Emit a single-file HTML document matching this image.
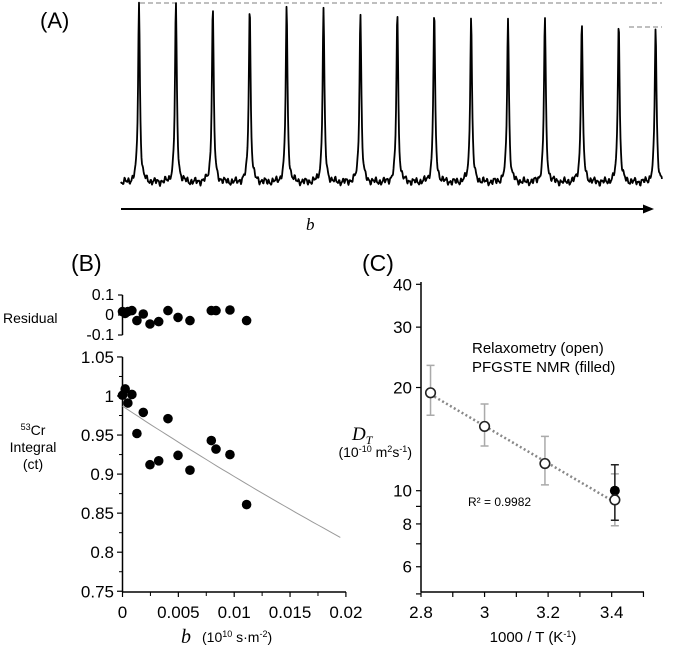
<!DOCTYPE html>
<html><head><meta charset="utf-8">
<style>
html,body{margin:0;padding:0;background:#fff;}
svg{display:block;font-family:"Liberation Sans",Arial,sans-serif;}
</style></head>
<body>
<svg id="s" width="675" height="648" viewBox="0 0 675 648">
<text x="40" y="28" font-size="22">(A)</text>
<text x="71" y="271" font-size="23">(B)</text>
<text x="362" y="271" font-size="23">(C)</text>
<line x1="140" y1="3" x2="662" y2="3" stroke="#aaa" stroke-width="1.5" stroke-dasharray="5,3"/>
<line x1="629" y1="27" x2="662" y2="27" stroke="#aaa" stroke-width="1.5" stroke-dasharray="5,3"/>
<line x1="121" y1="209" x2="645" y2="209" stroke="#000" stroke-width="2"/>
<polygon points="654,209 643,204.5 643,213.5" fill="#000"/>
<text x="306" y="230" font-size="17" font-style="italic" font-family="Liberation Serif,serif">b</text>
<g id="ga"></g><g id="gb"></g><g id="gc"></g>
<text x="3" y="323" font-size="14">Residual</text>
<text x="33" y="435" font-size="14" text-anchor="middle"><tspan font-size="9" dy="-5">53</tspan><tspan dy="5">Cr</tspan></text>
<text x="33" y="452" font-size="14" text-anchor="middle">Integral</text>
<text x="33" y="469" font-size="14" text-anchor="middle">(ct)</text>
<text x="181" y="643" font-size="20" font-style="italic" font-family="Liberation Serif,serif">b</text>
<text x="202" y="642" font-size="14">(10<tspan font-size="9" dy="-5">10</tspan><tspan dy="5"> s·m</tspan><tspan font-size="9" dy="-5">-2</tspan><tspan dy="5">)</tspan></text>
<text x="352" y="440" font-size="19" font-style="italic" font-family="Liberation Serif,serif">D<tspan font-size="12" dy="4">T</tspan></text>
<text x="412" y="457" font-size="14" text-anchor="end">(10<tspan font-size="9" dy="-5">-10</tspan><tspan dy="5"> m</tspan><tspan font-size="9" dy="-5">2</tspan><tspan dy="5">s</tspan><tspan font-size="9" dy="-5">-1</tspan><tspan dy="5">)</tspan></text>
<text x="533" y="642" font-size="15" text-anchor="middle">1000 / T (K<tspan font-size="9" dy="-5">-1</tspan><tspan dy="5">)</tspan></text>
<text x="472" y="353" font-size="15">Relaxometry (open)</text>
<text x="472" y="372" font-size="15">PFGSTE NMR (filled)</text>
<text x="468" y="506" font-size="12">R² = 0.9982</text>
</svg>
<script>
// Panel A data
const peakIndex=[0,1,2,3,4,5,6,7,8,9,10,11,12,13,14];
const peakHeights=[1.0,1.0,0.983,0.983,0.978,0.967,0.956,0.956,0.95,0.928,0.922,0.928,0.906,0.906,0.861];
// Panel B data
const bValues=[0,0.00024,0.00048,0.00084,0.00129,0.00186,0.00246,0.00324,0.00407,0.00497,0.00604,0.00795,0.00837,0.00962,0.01111];
const integrals=[1.001,1.009,0.991,1.002,0.952,0.979,0.912,0.917,0.971,0.924,0.905,0.943,0.932,0.925,0.861];
const residuals=[0.017,0.008,0.017,0.022,-0.028,0.005,-0.045,-0.033,0.022,-0.012,-0.028,0.022,0.022,0.025,-0.028];
const bTicks=[0,0.005,0.01,0.015,0.02];
const bTickLabels=["0","0.005","0.01","0.015","0.02"];
const intTicks=[0.75,0.8,0.85,0.9,0.95,1,1.05];
const intTickLabels=["0.75","0.8","0.85","0.9","0.95","1","1.05"];
const resTicks=[-0.1,0,0.1];
const resTickLabels=["-0.1","0","0.1"];
const fitA=0.987, fitD=9.57;
// Panel C data
const invT=[2.83,3.0,3.19,3.41];
const dOpen=[19.3,15.4,12.0,9.4];
const errHi=[23.2,17.9,14.4,11.2];
const errLo=[16.6,13.5,10.4,7.9];
const invTFilled=[3.41];
const dFilled=[10.0];
const fHi=[11.9];
const fLo=[8.2];
const cXTicks=[2.8,3.0,3.2,3.4];
const cXTickLabels=["2.8","3","3.2","3.4"];
const cYTicks=[6,8,10,20,30,40];
const cYTickLabels=["6","8","10","20","30","40"];
const cYMinor=[5,7,9];
const fitX=[2.83,3.41];
const fitY=[19.1,9.25];

const NS="http://www.w3.org/2000/svg";
function mk(par,tag,at){const e=document.createElementNS(NS,tag);for(const k in at)e.setAttribute(k,at[k]);par.appendChild(e);return e;}

// ---- Panel A
const ga=document.getElementById('ga');
const aX=i=>139+i*36.9, aBase=183;
let d="";
for(let x=121;x<=662;x+=0.5){
  let y=aBase+2.0*Math.sin(x*1.7)+1.5*Math.sin(x*0.63+1)+1.1*Math.sin(x*3.1+2);
  for(let i=0;i<peakIndex.length;i++){const dx=x-aX(peakIndex[i]);const w=1.1;y-=peakHeights[i]*179/(1+(dx*dx)/(w*w));}
  d+=(d?"L":"M")+x.toFixed(1)+","+y.toFixed(1);
}
const tr=mk(ga,'path',{d:d,fill:'none',stroke:'#000','stroke-width':1.8,'stroke-linejoin':'round'});



// ---- Panel B
const gb=document.getElementById('gb');
const bx=v=>122.5+v*11170, by=v=>396-(v-1)*781, ry=v=>315-v*200;
let el;
el=mk(gb,'line',{x1:122.5,y1:357,x2:122.5,y2:592,stroke:'#000','stroke-width':1.5});


el=mk(gb,'line',{x1:122.5,y1:592,x2:346,y2:592,stroke:'#000','stroke-width':1.5});


el=mk(gb,'line',{x1:122.5,y1:ry(0.1),x2:122.5,y2:ry(-0.1),stroke:'#000','stroke-width':1.5});


for(let i=0;i<intTicks.length;i++){
  mk(gb,'line',{x1:117,y1:by(intTicks[i]),x2:122.5,y2:by(intTicks[i]),stroke:'#000','stroke-width':1.2});
  if(i<intTicks.length-1)mk(gb,'line',{x1:119,y1:by(intTicks[i]+0.025),x2:122.5,y2:by(intTicks[i]+0.025),stroke:'#000','stroke-width':1});
  el=mk(gb,'text',{x:114,y:by(intTicks[i])+6,'font-size':17,'text-anchor':'end'});
  el.textContent=intTickLabels[i];
  
  
}
for(let i=0;i<resTicks.length;i++){
  mk(gb,'line',{x1:118,y1:ry(resTicks[i]),x2:122.5,y2:ry(resTicks[i]),stroke:'#000','stroke-width':1.2});
  el=mk(gb,'text',{x:114,y:ry(resTicks[i])+5,'font-size':16,'text-anchor':'end'});
  el.textContent=resTickLabels[i];
  
  
}
for(let i=0;i<bTicks.length;i++){
  mk(gb,'line',{x1:bx(bTicks[i]),y1:592,x2:bx(bTicks[i]),y2:597,stroke:'#000','stroke-width':1.2});
  if(i<bTicks.length-1)mk(gb,'line',{x1:bx(bTicks[i]+0.0025),y1:592,x2:bx(bTicks[i]+0.0025),y2:596,stroke:'#000','stroke-width':1});
  el=mk(gb,'text',{x:bx(bTicks[i]),y:618,'font-size':17,'text-anchor':'middle'});
  el.textContent=bTickLabels[i];
  
  
}
let fd="";
for(let v=0;v<=0.02;v+=0.0005){fd+=(fd?"L":"M")+bx(v).toFixed(1)+","+by(fitA*Math.exp(-fitD*v)).toFixed(1);}
el=mk(gb,'path',{d:fd,fill:'none',stroke:'#999','stroke-width':1});


for(let i=0;i<bValues.length;i++){
  el=mk(gb,'circle',{cx:bx(bValues[i]),cy:by(integrals[i]),r:4.8,fill:'#000'});
  
  
  el=mk(gb,'circle',{cx:bx(bValues[i]),cy:ry(residuals[i]),r:4.8,fill:'#000'});
  
  
}

// ---- Panel C
const gc=document.getElementById('gc');
const cx=v=>421+(v-2.8)*317.8, cy=v=>490.7-(Math.log10(v)-1)*342.8;
el=mk(gc,'line',{x1:421,y1:282,x2:421,y2:592,stroke:'#000','stroke-width':1.5});


el=mk(gc,'line',{x1:421,y1:592,x2:644,y2:592,stroke:'#000','stroke-width':1.5});


for(let i=0;i<cYTicks.length;i++){
  mk(gc,'line',{x1:416,y1:cy(cYTicks[i]),x2:421,y2:cy(cYTicks[i]),stroke:'#000','stroke-width':1.2});
  el=mk(gc,'text',{x:412,y:cy(cYTicks[i])+6,'font-size':17,'text-anchor':'end'});
  el.textContent=cYTickLabels[i];
  
  
}
for(const m of cYMinor){mk(gc,'line',{x1:416,y1:cy(m),x2:421,y2:cy(m),stroke:'#000','stroke-width':1.2});}
for(let i=0;i<cXTicks.length;i++){
  el=mk(gc,'text',{x:cx(cXTicks[i]),y:618,'font-size':17,'text-anchor':'middle'});
  el.textContent=cXTickLabels[i];
  
  
}
for(let v=2.8;v<=3.51;v+=0.1){mk(gc,'line',{x1:cx(v),y1:592,x2:cx(v),y2:597,stroke:'#000','stroke-width':1.2});}
el=mk(gc,'line',{x1:cx(fitX[0]),y1:cy(fitY[0]),x2:cx(fitX[1]),y2:cy(fitY[1]),stroke:'#888','stroke-width':2.5,'stroke-dasharray':'2,2.5'});


for(let i=0;i<invT.length;i++){
  const x=cx(invT[i]);
  el=mk(gc,'path',{d:`M${x},${cy(errHi[i])}V${cy(errLo[i])}M${x-4},${cy(errHi[i])}H${x+4}M${x-4},${cy(errLo[i])}H${x+4}`,stroke:'#aaa','stroke-width':1.5,fill:'none'});
  
  
}
for(let i=0;i<invTFilled.length;i++){
  const x=cx(invTFilled[i]);
  el=mk(gc,'path',{d:`M${x},${cy(fHi[i])}V${cy(fLo[i])}M${x-4},${cy(fHi[i])}H${x+4}M${x-4},${cy(fLo[i])}H${x+4}`,stroke:'#222','stroke-width':1.5,fill:'none'});
  
  
  el=mk(gc,'circle',{cx:x,cy:cy(dFilled[i]),r:5,fill:'#000'});
  
  
}
for(let i=0;i<invT.length;i++){
  el=mk(gc,'circle',{cx:cx(invT[i]),cy:cy(dOpen[i]),r:4.8,fill:'#fff',stroke:'#222','stroke-width':1.6});
  
  
}
</script>
</body></html>
